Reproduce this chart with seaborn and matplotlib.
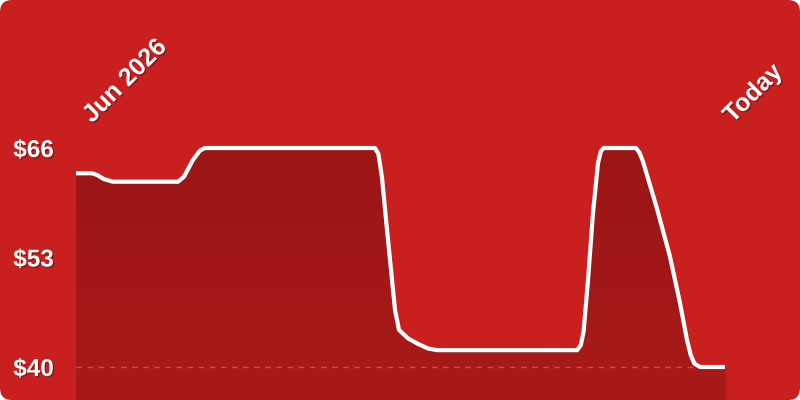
import pandas as pd
import seaborn as sns
import matplotlib.pyplot as plt
import matplotlib.patheffects as pe
from matplotlib.patches import FancyBboxPatch
from matplotlib.colors import LinearSegmentedColormap
from matplotlib.transforms import ScaledTranslation

# price history (x = days since start)
days = [0, 4.0, 5.25, 7.0, 9.25, 25.5, 27.0, 29.25, 31.0, 32.25,
        74.75, 75.6, 76.5, 77.75, 79.75, 80.75, 83.0, 85.25, 88.0, 90.25,
        125.3, 126.2, 126.9, 128.0, 129.25, 130.5, 131.2, 131.9,
        140.0, 140.8, 141.6, 142.75, 145.25, 148.5, 151.0, 152.75, 153.7, 154.6, 156.0, 162.25]
prices = [63.0, 63.0, 62.8, 62.3, 62.0, 62.0, 62.6, 64.6, 65.7, 66.0,
          66.0, 65.3, 62.5, 56.3, 46.8, 44.4, 43.4, 42.8, 42.2, 42.0,
          42.0, 42.6, 44.2, 50.3, 58.3, 64.2, 65.6, 66.0,
          66.0, 65.5, 64.6, 62.8, 58.8, 53.1, 47.6, 43.2, 41.4, 40.4, 40.0, 40.0]

tick_prices = [40, 53, 66]
tick_labels = ['$40', '$53', '$66']
date_ticks = [0, 162.25]
date_labels = ['Jun 2026', 'Today']

BG = '#c91f1f'
FILL_TOP = '#9c1616'
FILL_BOTTOM = '#a81a1a'
Y_MIN, Y_MAX = 36.08, 68.14

sns.set_theme(style='white')
plt.rcParams['font.family'] = ['Liberation Sans', 'DejaVu Sans']

fig = plt.figure(figsize=(8, 4), dpi=100, facecolor='white')
card = FancyBboxPatch((0, 0), 8, 4, boxstyle='round,pad=0,rounding_size=0.12',
                      transform=fig.dpi_scale_trans, facecolor=BG, edgecolor='none',
                      zorder=-10)
fig.patches.append(card)

ax = fig.add_axes([76 / 800, 0, 649 / 800, 270 / 400])
ax.set_facecolor('none')

df = pd.DataFrame({'day': days, 'price': prices})

# gradient fill under the line
poly = ax.fill_between(df['day'], df['price'], Y_MIN, color=FILL_TOP, lw=0, zorder=1)
cmap = LinearSegmentedColormap.from_list('fill', [FILL_BOTTOM, FILL_TOP])
img = ax.imshow([[0], [1]], extent=[days[0], days[-1], Y_MIN, 66], origin='lower',
                aspect='auto', cmap=cmap, interpolation='bicubic', zorder=1.5)
img.set_clip_path(poly.get_paths()[0], transform=ax.transData)

ax.axhline(40, color='#c45050', lw=1, ls=(0, (4, 4)), zorder=2)

sns.lineplot(data=df, x='day', y='price', color='white', lw=3, ax=ax,
             solid_joinstyle='round', zorder=3)

ax.set_xlim(0, 162.25)
ax.set_ylim(Y_MIN, Y_MAX)
for s in ax.spines.values():
    s.set_visible(False)
ax.set_xlabel('')
ax.set_ylabel('')

shadow = [pe.withSimplePatchShadow(offset=(1, -1), shadow_rgbFace='black', alpha=0.3)]

ax.set_yticks(tick_prices, tick_labels)
ax.tick_params(axis='y', length=0, pad=16, labelsize=17.5, labelcolor='white')
for t in ax.get_yticklabels():
    t.set_fontweight('bold')
    t.set_path_effects(shadow)

ax.xaxis.tick_top()
ax.set_xticks(date_ticks, date_labels)
ax.tick_params(axis='x', length=0, pad=2, labelsize=18, labelcolor='white')
for t, dx in zip(ax.get_xticklabels(), [14, 8]):
    t.set_fontweight('bold')
    t.set_rotation(45)
    t.set_rotation_mode('anchor')
    t.set_ha('left')
    t.set_va('bottom')
    t.set_path_effects(shadow)
    t.set_transform(t.get_transform() + ScaledTranslation(dx / 72, 0, fig.dpi_scale_trans))

fig.savefig('out.png', dpi=100, facecolor='white')
